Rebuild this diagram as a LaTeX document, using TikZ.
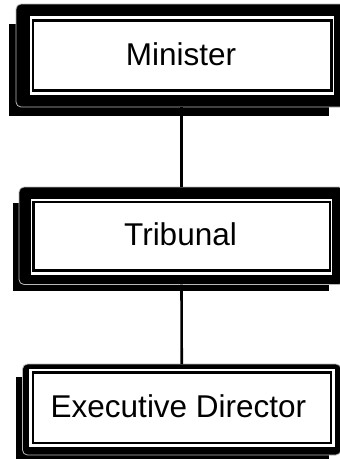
\documentclass[tikz,border=0pt]{standalone}
\usepackage{fontspec}
\setmainfont{Liberation Sans}
\begin{document}
\begin{tikzpicture}[x=1pt,y=-1pt,
  shadowbox/.style={fill=black},
  boxframe/.style={fill=black, draw=gray!55, line width=0.8pt, rounded corners=5pt,
                   inner sep=0pt, outer sep=0pt},
  pane/.style={fill=white},
  innerrule/.style={draw=black, line width=2.6pt},
  boxtext/.style={font=\fontsize{31.5}{36}\selectfont, anchor=base, inner sep=0pt},
  link/.style={draw=black, line width=2.6pt}]
\useasboundingbox (0,0) rectangle (340,459);
\clip (0,0) rectangle (340,459);

% --- Minister ---
\fill[shadowbox] (9,24) rectangle (329,116);
\node[boxframe, minimum width=331pt, minimum height=103pt] (minister) at (181.5,55.5) {};
\fill[pane] (30,16) rectangle (334,94.5);
\draw[innerrule] (33,20.5) rectangle (331.5,90.3);
\node[boxtext] (ministertext) at (181,65) {Minister};

% --- Tribunal ---
\fill[shadowbox] (13,203) rectangle (329,291);
\node[boxframe, minimum width=325pt, minimum height=97.5pt] (tribunal) at (181.5,235.75) {};
\fill[pane] (31,199) rectangle (332,274.5);
\draw[innerrule] (33.5,202) rectangle (330,270.5);
\node[boxtext] (tribunaltext) at (180.5,245) {Tribunal};

% --- Executive Director ---
\fill[shadowbox] (16,377) rectangle (329,462);
\node[boxframe, minimum width=318.5pt, minimum height=91pt] (director) at (181.75,409.5) {};
\fill[pane] (29,368.5) rectangle (334.5,447);
\draw[innerrule] (33,372.5) rectangle (331,443);
\node[boxtext] (directortext) at (178.5,417) {Executive Director};

% --- reporting lines ---
\draw[link] (minister.south) -- (tribunal.north);
\draw[link] (tribunal.south) -- (director.north);
\end{tikzpicture}
\end{document}
